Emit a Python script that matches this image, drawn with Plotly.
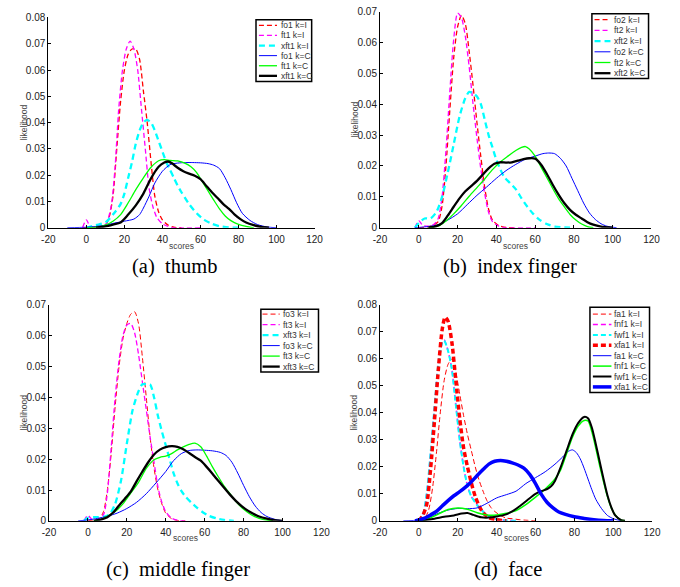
import plotly.graph_objects as go

W, H = 680, 587

# ---------------- Panel (a) thumb ----------------
a_fo1_I_x = [-2, 0, 5, 10, 12, 14, 16, 18, 20, 22, 24, 26, 28, 30, 32, 34, 36, 38, 40, 43, 46, 50]
a_fo1_I_y = [0, 0, 0.0003, 0.001, 0.004, 0.012, 0.030, 0.048, 0.060, 0.066, 0.068, 0.068, 0.064, 0.052, 0.040, 0.025, 0.012, 0.006, 0.003, 0.001, 0.0002, 0]
a_ft1_I_x = [-2, 0, 2, 5, 10, 13, 15, 17, 19, 21, 23, 25, 27, 29, 31, 33, 35, 37, 40, 43, 46, 60]
a_ft1_I_y = [0, 0.003, 0.0005, 0.0003, 0.001, 0.008, 0.022, 0.045, 0.060, 0.068, 0.071, 0.068, 0.060, 0.045, 0.030, 0.015, 0.008, 0.004, 0.0015, 0.0005, 0, 0]
a_xft1_I_x = [0, 5, 10, 14, 18, 20, 22, 24, 26, 28, 30, 32, 34, 36, 38, 40, 42, 44, 46, 48, 50, 54, 58, 62, 66, 70, 75, 80]
a_xft1_I_y = [0, 0.001, 0.002, 0.005, 0.009, 0.013, 0.019, 0.025, 0.032, 0.037, 0.040, 0.041, 0.040, 0.037, 0.033, 0.029, 0.025, 0.022, 0.019, 0.016, 0.0135, 0.009, 0.0055, 0.003, 0.0015, 0.0006, 0.0001, 0]
a_fo1_C_x = [-10, 0, 5, 10, 15, 20, 25, 28, 30, 33, 36, 40, 44, 48, 52, 56, 60, 64, 67, 70, 73, 76, 79, 82, 86, 90, 95, 100]
a_fo1_C_y = [0, 0.0002, 0.0005, 0.001, 0.0018, 0.0025, 0.0033, 0.005, 0.0075, 0.012, 0.017, 0.0215, 0.024, 0.0246, 0.0248, 0.0248, 0.0247, 0.0244, 0.0238, 0.0225, 0.019, 0.0145, 0.0095, 0.0055, 0.0028, 0.0012, 0.0003, 0]
a_ft1_C_x = [0, 5, 10, 14, 18, 22, 26, 30, 34, 38, 41, 44, 48, 52, 55, 58, 61, 64, 67, 70, 73, 76, 80, 84, 88]
a_ft1_C_y = [0, 0.0002, 0.001, 0.0025, 0.005, 0.0095, 0.0145, 0.019, 0.023, 0.0255, 0.0259, 0.0256, 0.0254, 0.0245, 0.0232, 0.021, 0.0175, 0.014, 0.0105, 0.0072, 0.0045, 0.0027, 0.0013, 0.0005, 0]
a_xft1_C_x = [5, 10, 14, 18, 22, 26, 30, 34, 38, 41, 43, 45, 48, 51, 54, 57, 60, 63, 66, 69, 72, 75, 78, 81, 84, 88, 92, 96]
a_xft1_C_y = [0, 0.0005, 0.0012, 0.002, 0.005, 0.0085, 0.013, 0.0188, 0.0232, 0.0248, 0.0252, 0.0245, 0.0228, 0.0215, 0.0206, 0.0198, 0.0185, 0.016, 0.0135, 0.0113, 0.009, 0.0072, 0.005, 0.0033, 0.002, 0.001, 0.0003, 0]

# ---------------- Panel (b) index finger ----------------
b_fo2_I_x = [0, 5, 8, 10, 12, 14, 16, 18, 20, 22, 24, 26, 28, 30, 32, 34, 36, 38, 41, 45, 50]
b_fo2_I_y = [0, 0.0003, 0.001, 0.002, 0.007, 0.020, 0.038, 0.055, 0.065, 0.0688, 0.066, 0.057, 0.046, 0.034, 0.023, 0.013, 0.006, 0.0025, 0.0008, 0.0001, 0]
b_ft2_I_x = [-2, 0, 2, 5, 8, 10, 12, 14, 16, 18, 20, 22, 24, 26, 28, 30, 32, 34, 36, 38, 41, 45, 60]
b_ft2_I_y = [0, 0.0023, 0.0008, 0.0005, 0.0012, 0.003, 0.010, 0.025, 0.044, 0.061, 0.0695, 0.068, 0.062, 0.052, 0.040, 0.029, 0.019, 0.011, 0.005, 0.002, 0.0006, 0, 0]
b_xft2_I_x = [-2, 0, 3, 6, 9, 12, 15, 18, 21, 24, 26, 28, 30, 32, 34, 36, 38, 40, 42, 44, 47, 50, 53, 56, 59, 62, 66, 70, 75, 80]
b_xft2_I_y = [0, 0.0015, 0.003, 0.003, 0.005, 0.010, 0.018, 0.027, 0.036, 0.042, 0.044, 0.0435, 0.0425, 0.040, 0.035, 0.030, 0.026, 0.022, 0.019, 0.0165, 0.0145, 0.0125, 0.0095, 0.0068, 0.0045, 0.0027, 0.0012, 0.0004, 0.0001, 0]
b_fo2_C_x = [-2, 5, 10, 15, 20, 25, 30, 35, 40, 45, 50, 55, 60, 64, 67, 70, 73, 76, 79, 82, 85, 88, 91, 94, 97, 102]
b_fo2_C_y = [0, 0.0004, 0.001, 0.0025, 0.0045, 0.0075, 0.0105, 0.0132, 0.016, 0.0185, 0.0205, 0.0222, 0.0232, 0.024, 0.0242, 0.024, 0.0225, 0.020, 0.016, 0.012, 0.008, 0.0048, 0.0027, 0.0013, 0.0005, 0]
b_ft2_C_x = [5, 10, 14, 18, 22, 26, 30, 34, 38, 42, 46, 50, 53, 55, 57, 60, 63, 66, 69, 72, 75, 78, 81, 84, 87, 90]
b_ft2_C_y = [0, 0.0005, 0.0022, 0.0045, 0.0072, 0.0102, 0.013, 0.0158, 0.0188, 0.0213, 0.0232, 0.025, 0.026, 0.0263, 0.0255, 0.0232, 0.0197, 0.0163, 0.0128, 0.0095, 0.0068, 0.0043, 0.0025, 0.0012, 0.0004, 0]
b_xft2_C_x = [5, 9, 12, 15, 18, 21, 24, 27, 30, 33, 36, 39, 42, 45, 48, 51, 54, 57, 60, 63, 66, 69, 72, 75, 78, 81, 84, 87, 90, 94, 100]
b_xft2_C_y = [0, 0.0005, 0.0015, 0.004, 0.0068, 0.0095, 0.0118, 0.0135, 0.0152, 0.0172, 0.0192, 0.0207, 0.0212, 0.0211, 0.0212, 0.0217, 0.0222, 0.0225, 0.0224, 0.0205, 0.0175, 0.014, 0.0108, 0.008, 0.0058, 0.0042, 0.003, 0.0018, 0.001, 0.0004, 0]

# ---------------- Panel (c) middle finger ----------------
c_fo3_I_x = [0, 3, 6, 8, 10, 12, 14, 16, 18, 20, 22, 24, 26, 28, 30, 32, 34, 36, 38, 40, 43, 46, 50]
c_fo3_I_y = [0, 0.0003, 0.0008, 0.003, 0.010, 0.022, 0.037, 0.050, 0.059, 0.064, 0.067, 0.0678, 0.064, 0.053, 0.040, 0.027, 0.017, 0.010, 0.0055, 0.0025, 0.0007, 0.0001, 0]
c_ft3_I_x = [-2, 0, 2, 5, 8, 10, 12, 14, 16, 18, 20, 22, 24, 26, 28, 30, 32, 34, 36, 38, 40, 43, 46, 50]
c_ft3_I_y = [0, 0.0018, 0.0005, 0.0004, 0.002, 0.009, 0.024, 0.040, 0.052, 0.060, 0.0635, 0.064, 0.061, 0.054, 0.045, 0.036, 0.027, 0.019, 0.011, 0.006, 0.003, 0.0009, 0.0002, 0]
c_xft3_I_x = [-2, 0, 4, 8, 11, 14, 17, 20, 23, 26, 28, 30, 32, 34, 36, 38, 40, 42, 44, 46, 48, 50, 53, 56, 59, 62, 66, 70, 75]
c_xft3_I_y = [0, 0.001, 0.0012, 0.0013, 0.002, 0.0055, 0.013, 0.025, 0.036, 0.042, 0.0443, 0.0443, 0.0442, 0.040, 0.034, 0.029, 0.0245, 0.020, 0.0155, 0.0122, 0.0097, 0.008, 0.006, 0.0043, 0.0028, 0.0017, 0.0008, 0.0003, 0]
c_fo3_C_x = [-5, 0, 5, 10, 15, 20, 25, 30, 35, 40, 44, 48, 52, 56, 60, 64, 68, 71, 74, 77, 80, 83, 86, 89, 92, 96, 100]
c_fo3_C_y = [0, 0.0003, 0.0008, 0.0015, 0.0025, 0.004, 0.006, 0.0088, 0.0123, 0.016, 0.0195, 0.0218, 0.0228, 0.023, 0.0229, 0.0227, 0.0222, 0.0212, 0.019, 0.0155, 0.0115, 0.0078, 0.0048, 0.0027, 0.0014, 0.0005, 0]
c_ft3_C_x = [3, 6, 10, 14, 18, 22, 26, 30, 34, 37, 40, 43, 46, 49, 52, 55, 58, 61, 64, 67, 70, 73, 76, 79, 82, 85, 88, 92, 95]
c_ft3_C_y = [0, 0.0004, 0.0015, 0.003, 0.0055, 0.009, 0.0125, 0.017, 0.0198, 0.0206, 0.021, 0.0218, 0.023, 0.024, 0.0248, 0.0252, 0.024, 0.021, 0.0175, 0.0143, 0.0113, 0.0088, 0.0063, 0.0043, 0.0028, 0.0016, 0.0008, 0.0002, 0]
c_xft3_C_x = [3, 7, 10, 13, 16, 19, 22, 25, 28, 31, 34, 37, 40, 43, 46, 49, 52, 55, 58, 61, 64, 67, 70, 73, 76, 79, 82, 85, 88, 92, 96, 100]
c_xft3_C_y = [0, 0.0005, 0.0012, 0.0027, 0.005, 0.0072, 0.0095, 0.0128, 0.016, 0.019, 0.0215, 0.0231, 0.0239, 0.0242, 0.024, 0.0232, 0.022, 0.0207, 0.0195, 0.0175, 0.0153, 0.013, 0.0107, 0.0085, 0.0065, 0.0048, 0.0034, 0.0023, 0.0014, 0.0007, 0.0002, 0]

# ---------------- Panel (d) face ----------------
d_fa1_I_x = [0, 3, 5, 7, 9, 11, 13, 15, 17, 19, 21, 23, 25, 27, 29, 31, 33, 35, 37, 39, 42, 45, 48, 52, 56, 60]
d_fa1_I_y = [0, 0.001, 0.004, 0.012, 0.025, 0.040, 0.052, 0.058, 0.060, 0.055, 0.047, 0.039, 0.032, 0.026, 0.020, 0.015, 0.011, 0.0075, 0.005, 0.0035, 0.002, 0.001, 0.0008, 0.0004, 0.0002, 0]
d_fnf1_I_x = [0, 2, 4, 6, 8, 10, 12, 13, 15, 17, 19, 21, 23, 25, 27, 29, 31, 33, 36, 40, 44, 50]
d_fnf1_I_y = [0, 0.002, 0.010, 0.025, 0.042, 0.058, 0.066, 0.067, 0.063, 0.056, 0.043, 0.030, 0.020, 0.013, 0.009, 0.007, 0.005, 0.0035, 0.0017, 0.0006, 0.0002, 0]
d_fwf1_I_x = [0, 2, 4, 6, 8, 10, 12, 13, 15, 17, 19, 21, 23, 25, 27, 29, 31, 33, 36, 40, 44, 50]
d_fwf1_I_y = [0, 0.002, 0.010, 0.025, 0.042, 0.058, 0.066, 0.0668, 0.063, 0.056, 0.043, 0.030, 0.020, 0.013, 0.009, 0.0068, 0.0048, 0.0034, 0.0016, 0.0006, 0.0002, 0]
d_xfa1_I_x = [0, 2, 4, 6, 8, 10, 12, 13.5, 15, 17, 19, 21, 23, 25, 27, 29, 31, 33, 36, 40, 45]
d_xfa1_I_y = [0, 0.002, 0.006, 0.019, 0.037, 0.056, 0.071, 0.0755, 0.074, 0.066, 0.052, 0.038, 0.027, 0.020, 0.014, 0.009, 0.0055, 0.003, 0.0012, 0.0004, 0]
d_fa1_C_x = [-8, 0, 5, 10, 15, 20, 25, 30, 35, 40, 45, 50, 55, 60, 65, 70, 74, 77, 79, 81, 83, 85, 87, 89, 91, 94, 97, 100, 104]
d_fa1_C_y = [0, 0.0003, 0.0012, 0.0028, 0.004, 0.0046, 0.0045, 0.0048, 0.0065, 0.0085, 0.0097, 0.011, 0.0138, 0.016, 0.0182, 0.021, 0.0237, 0.0258, 0.0263, 0.0253, 0.023, 0.0195, 0.0155, 0.0115, 0.008, 0.0045, 0.002, 0.0008, 0]
d_fnf1_C_x = [0, 5, 10, 15, 20, 25, 30, 35, 40, 45, 50, 55, 60, 65, 70, 73, 76, 79, 82, 85, 87, 89, 91, 93, 95, 97, 99, 101, 104, 106]
d_fnf1_C_y = [0, 0.0008, 0.0025, 0.0042, 0.0048, 0.0043, 0.003, 0.0022, 0.0022, 0.0028, 0.0038, 0.006, 0.0088, 0.0118, 0.0155, 0.019, 0.025, 0.031, 0.0352, 0.0372, 0.037, 0.033, 0.027, 0.0205, 0.0145, 0.009, 0.0048, 0.0022, 0.0003, 0]
d_fwf1_C_x = [-2, 3, 8, 13, 18, 22, 25, 28, 32, 36, 40, 44, 48, 52, 56, 60, 63, 66, 68, 70, 73, 76, 79, 82, 85, 87, 89, 91, 93, 95, 97, 99, 101, 104, 106]
d_fwf1_C_y = [0, 0.0003, 0.0008, 0.0015, 0.002, 0.0027, 0.0029, 0.0022, 0.0013, 0.0012, 0.0016, 0.0022, 0.0035, 0.0055, 0.0078, 0.010, 0.011, 0.0118, 0.0128, 0.0148, 0.020, 0.026, 0.032, 0.0363, 0.0385, 0.038, 0.0345, 0.0285, 0.022, 0.0155, 0.0095, 0.005, 0.002, 0.0003, 0]
d_xfa1_C_x = [-2, 0, 3, 6, 9, 12, 15, 18, 21, 24, 27, 30, 33, 36, 39, 42, 45, 48, 51, 54, 57, 60, 63, 66, 69, 72, 75, 80, 85, 90, 95, 100]
d_xfa1_C_y = [0, 0.0003, 0.001, 0.0022, 0.0035, 0.0055, 0.0075, 0.0093, 0.0108, 0.0125, 0.0145, 0.0168, 0.019, 0.021, 0.0221, 0.0224, 0.0221, 0.0215, 0.0207, 0.0195, 0.0172, 0.0138, 0.0098, 0.0068, 0.0048, 0.0033, 0.0025, 0.0015, 0.0009, 0.0004, 0.0001, 0]

# axis ticks / labels
x_tick_vals = [-20, 0, 20, 40, 60, 80, 100, 120]
x_tick_text = ["-20", "0", "20", "40", "60", "80", "100", "120"]
y_ticks_08 = [0, 0.01, 0.02, 0.03, 0.04, 0.05, 0.06, 0.07, 0.08]
y_ticks_07 = [0, 0.01, 0.02, 0.03, 0.04, 0.05, 0.06, 0.07]
captions = ["(a)\u2002thumb", "(b)\u2002index finger", "(c)\u2002middle finger", "(d)\u2002face"]
x_title = "scores"
y_title = "likelihood"

RED, MAG, CYA, BLU, GRN, BLK = "#ff0000", "#ff00ff", "#00ffff", "#0000ff", "#00ff00", "#000000"
D1 = "5px,3px"
D2 = "6px,4px"

panels = [
    dict(ax=1, ymax=0.08, yt=y_ticks_08,
         dom_px=(42.3, 315, 12.7, 227), leg_px=(255, 312, 15, 78), leg_line=(258, 276.5), leg_text=278.3,
         leg_y0=20.7, leg_dy=10.3, cap=(171.5, 267), xt_y=245.5, yt_x=17,
         series=[("fo1 k=I", a_fo1_I_x, a_fo1_I_y, RED, 1.3, D1),
                 ("ft1 k=I", a_ft1_I_x, a_ft1_I_y, MAG, 1.3, D1),
                 ("xft1 k=I", a_xft1_I_x, a_xft1_I_y, CYA, 2.3, D2),
                 ("fo1 k=C", a_fo1_C_x, a_fo1_C_y, BLU, 1.0, None),
                 ("ft1 k=C", a_ft1_C_x, a_ft1_C_y, GRN, 1.3, None),
                 ("xft1 k=C", a_xft1_C_x, a_xft1_C_y, BLK, 2.3, None)]),
    dict(ax=2, ymax=0.07, yt=y_ticks_07,
         dom_px=(382, 660, 6.7, 227), leg_px=(599, 657, 9, 75), leg_line=(601.7, 618), leg_text=620,
         leg_y0=15, leg_dy=10.9, cap=(515, 267), xt_y=245.3, yt_x=356,
         series=[("fo2 k=I", b_fo2_I_x, b_fo2_I_y, RED, 1.3, D1),
                 ("ft2 k=I", b_ft2_I_x, b_ft2_I_y, MAG, 1.3, D1),
                 ("xft2 k=I", b_xft2_I_x, b_xft2_I_y, CYA, 2.3, D2),
                 ("fo2 k=C", b_fo2_C_x, b_fo2_C_y, BLU, 1.0, None),
                 ("ft2 k=C", b_ft2_C_x, b_ft2_C_y, GRN, 1.3, None),
                 ("xft2 k=C", b_xft2_C_x, b_xft2_C_y, BLK, 2.3, None)]),
    dict(ax=3, ymax=0.07, yt=y_ticks_07,
         dom_px=(43, 322, 305.7, 525.7), leg_px=(260, 319, 310, 374), leg_line=(261.7, 279.3), leg_text=281,
         leg_y0=315, leg_dy=10.7, cap=(175.5, 575), xt_y=542.7, yt_x=17,
         series=[("fo3 k=I", c_fo3_I_x, c_fo3_I_y, RED, 1.0, D1),
                 ("ft3 k=I", c_ft3_I_x, c_ft3_I_y, MAG, 1.3, D1),
                 ("xft3 k=I", c_xft3_I_x, c_xft3_I_y, CYA, 2.3, D2),
                 ("fo3 k=C", c_fo3_C_x, c_fo3_C_y, BLU, 1.0, None),
                 ("ft3 k=C", c_ft3_C_x, c_ft3_C_y, GRN, 1.3, None),
                 ("xft3 k=C", c_xft3_C_x, c_xft3_C_y, BLK, 2.3, None)]),
    dict(ax=4, ymax=0.08, yt=y_ticks_08,
         dom_px=(382, 660.7, 305.7, 525.7), leg_px=(597, 658, 308, 395), leg_line=(600, 619), leg_text=620,
         leg_y0=315, leg_dy=10.6, cap=(513.5, 575), xt_y=542.7, yt_x=355,
         series=[("fa1 k=I", d_fa1_I_x, d_fa1_I_y, RED, 1.0, D1),
                 ("fnf1 k=I", d_fnf1_I_x, d_fnf1_I_y, MAG, 1.5, D1),
                 ("fwf1 k=I", d_fwf1_I_x, d_fwf1_I_y, CYA, 2.0, D1),
                 ("xfa1 k=I", d_xfa1_I_x, d_xfa1_I_y, RED, 3.5, "5px,3px"),
                 ("fa1 k=C", d_fa1_C_x, d_fa1_C_y, BLU, 1.0, None),
                 ("fnf1 k=C", d_fnf1_C_x, d_fnf1_C_y, GRN, 1.5, None),
                 ("fwf1 k=C", d_fwf1_C_x, d_fwf1_C_y, BLK, 2.0, None),
                 ("xfa1 k=C", d_xfa1_C_x, d_xfa1_C_y, BLU, 3.5, None)]),
]


def px(x):
    return x / W


def py(y):
    return 1 - y / H


fig = go.Figure()
shapes, annotations = [], []
TICK_FONT = dict(family="Liberation Sans, Arial, sans-serif", size=10, color="#222222")
SMALL_FONT = dict(family="Liberation Sans, Arial, sans-serif", size=8.5, color="#444444")
LEG_FONT = dict(family="Liberation Sans, Arial, sans-serif", size=8.5, color="#333333")

layout_axes = {}
for p in panels:
    i = p["ax"]
    xs = "" if i == 1 else str(i)
    x0, x1, y0, y1 = p["dom_px"]
    for (name, xv, yv, col, w, dash) in p["series"]:
        fig.add_trace(go.Scatter(
            x=xv, y=yv, mode="lines", name=name, showlegend=False,
            line=dict(color=col, width=w, dash=dash if dash else "solid", shape="spline", smoothing=0.7),
            xaxis="x" + xs, yaxis="y" + xs))
    layout_axes["xaxis" + xs] = dict(
        domain=[px(x0), px(x1)], range=[-20, 120], anchor="y" + xs,
        tickvals=x_tick_vals, ticktext=x_tick_text, ticks="inside", ticklen=3, tickcolor="black",
        showline=True, linecolor="black", linewidth=1, showgrid=False, zeroline=False,
        tickfont=TICK_FONT, mirror=False, ticklabelstandoff=2)
    layout_axes["yaxis" + xs] = dict(
        domain=[py(y1), py(y0)], range=[0, p["ymax"]], anchor="x" + xs,
        tickvals=p["yt"], ticktext=[("0" if v == 0 else f"{v:.2f}") for v in p["yt"]],
        ticks="inside", ticklen=3, tickcolor="black",
        showline=True, linecolor="black", linewidth=1, showgrid=False, zeroline=False,
        tickfont=TICK_FONT, mirror=False)

    # axis titles
    annotations.append(dict(text=x_title, x=px((x0 + x1) / 2), y=py(p["xt_y"]), xref="paper", yref="paper",
                            showarrow=False, font=SMALL_FONT, xanchor="center", yanchor="middle"))
    annotations.append(dict(text=y_title, x=px(p["yt_x"]), y=py((y0 + y1) / 2), xref="paper", yref="paper",
                            showarrow=False, font=SMALL_FONT, textangle=-90, xanchor="center", yanchor="middle"))
    # caption
    annotations.append(dict(text=captions[i - 1], x=px(p["cap"][0]), y=py(p["cap"][1]), xref="paper", yref="paper",
                            showarrow=False, xanchor="center", yanchor="middle",
                            font=dict(family="Liberation Serif, Times New Roman, serif", size=20.5, color="black")))
    # manual legend
    lx0, lx1, ly0, ly1 = p["leg_px"]
    shapes.append(dict(type="rect", xref="paper", yref="paper", x0=px(lx0), x1=px(lx1), y0=py(ly1), y1=py(ly0),
                       line=dict(color="black", width=1.5), fillcolor="white", layer="above"))
    for k, (name, xv, yv, col, w, dash) in enumerate(p["series"]):
        yy = p["leg_y0"] + k * p["leg_dy"]
        shapes.append(dict(type="line", xref="paper", yref="paper", x0=px(p["leg_line"][0]), x1=px(p["leg_line"][1]),
                           y0=py(yy), y1=py(yy), line=dict(color=col, width=w, dash=dash if dash else "solid"),
                           layer="above"))
        annotations.append(dict(text=name, x=px(p["leg_text"]), y=py(yy), xref="paper", yref="paper",
                                showarrow=False, xanchor="left", yanchor="middle", font=LEG_FONT))

fig.update_layout(
    width=W, height=H, margin=dict(l=0, r=0, t=0, b=0),
    paper_bgcolor="white", plot_bgcolor="white", showlegend=False,
    shapes=shapes, annotations=annotations, **layout_axes)

fig.write_html("out.html")
